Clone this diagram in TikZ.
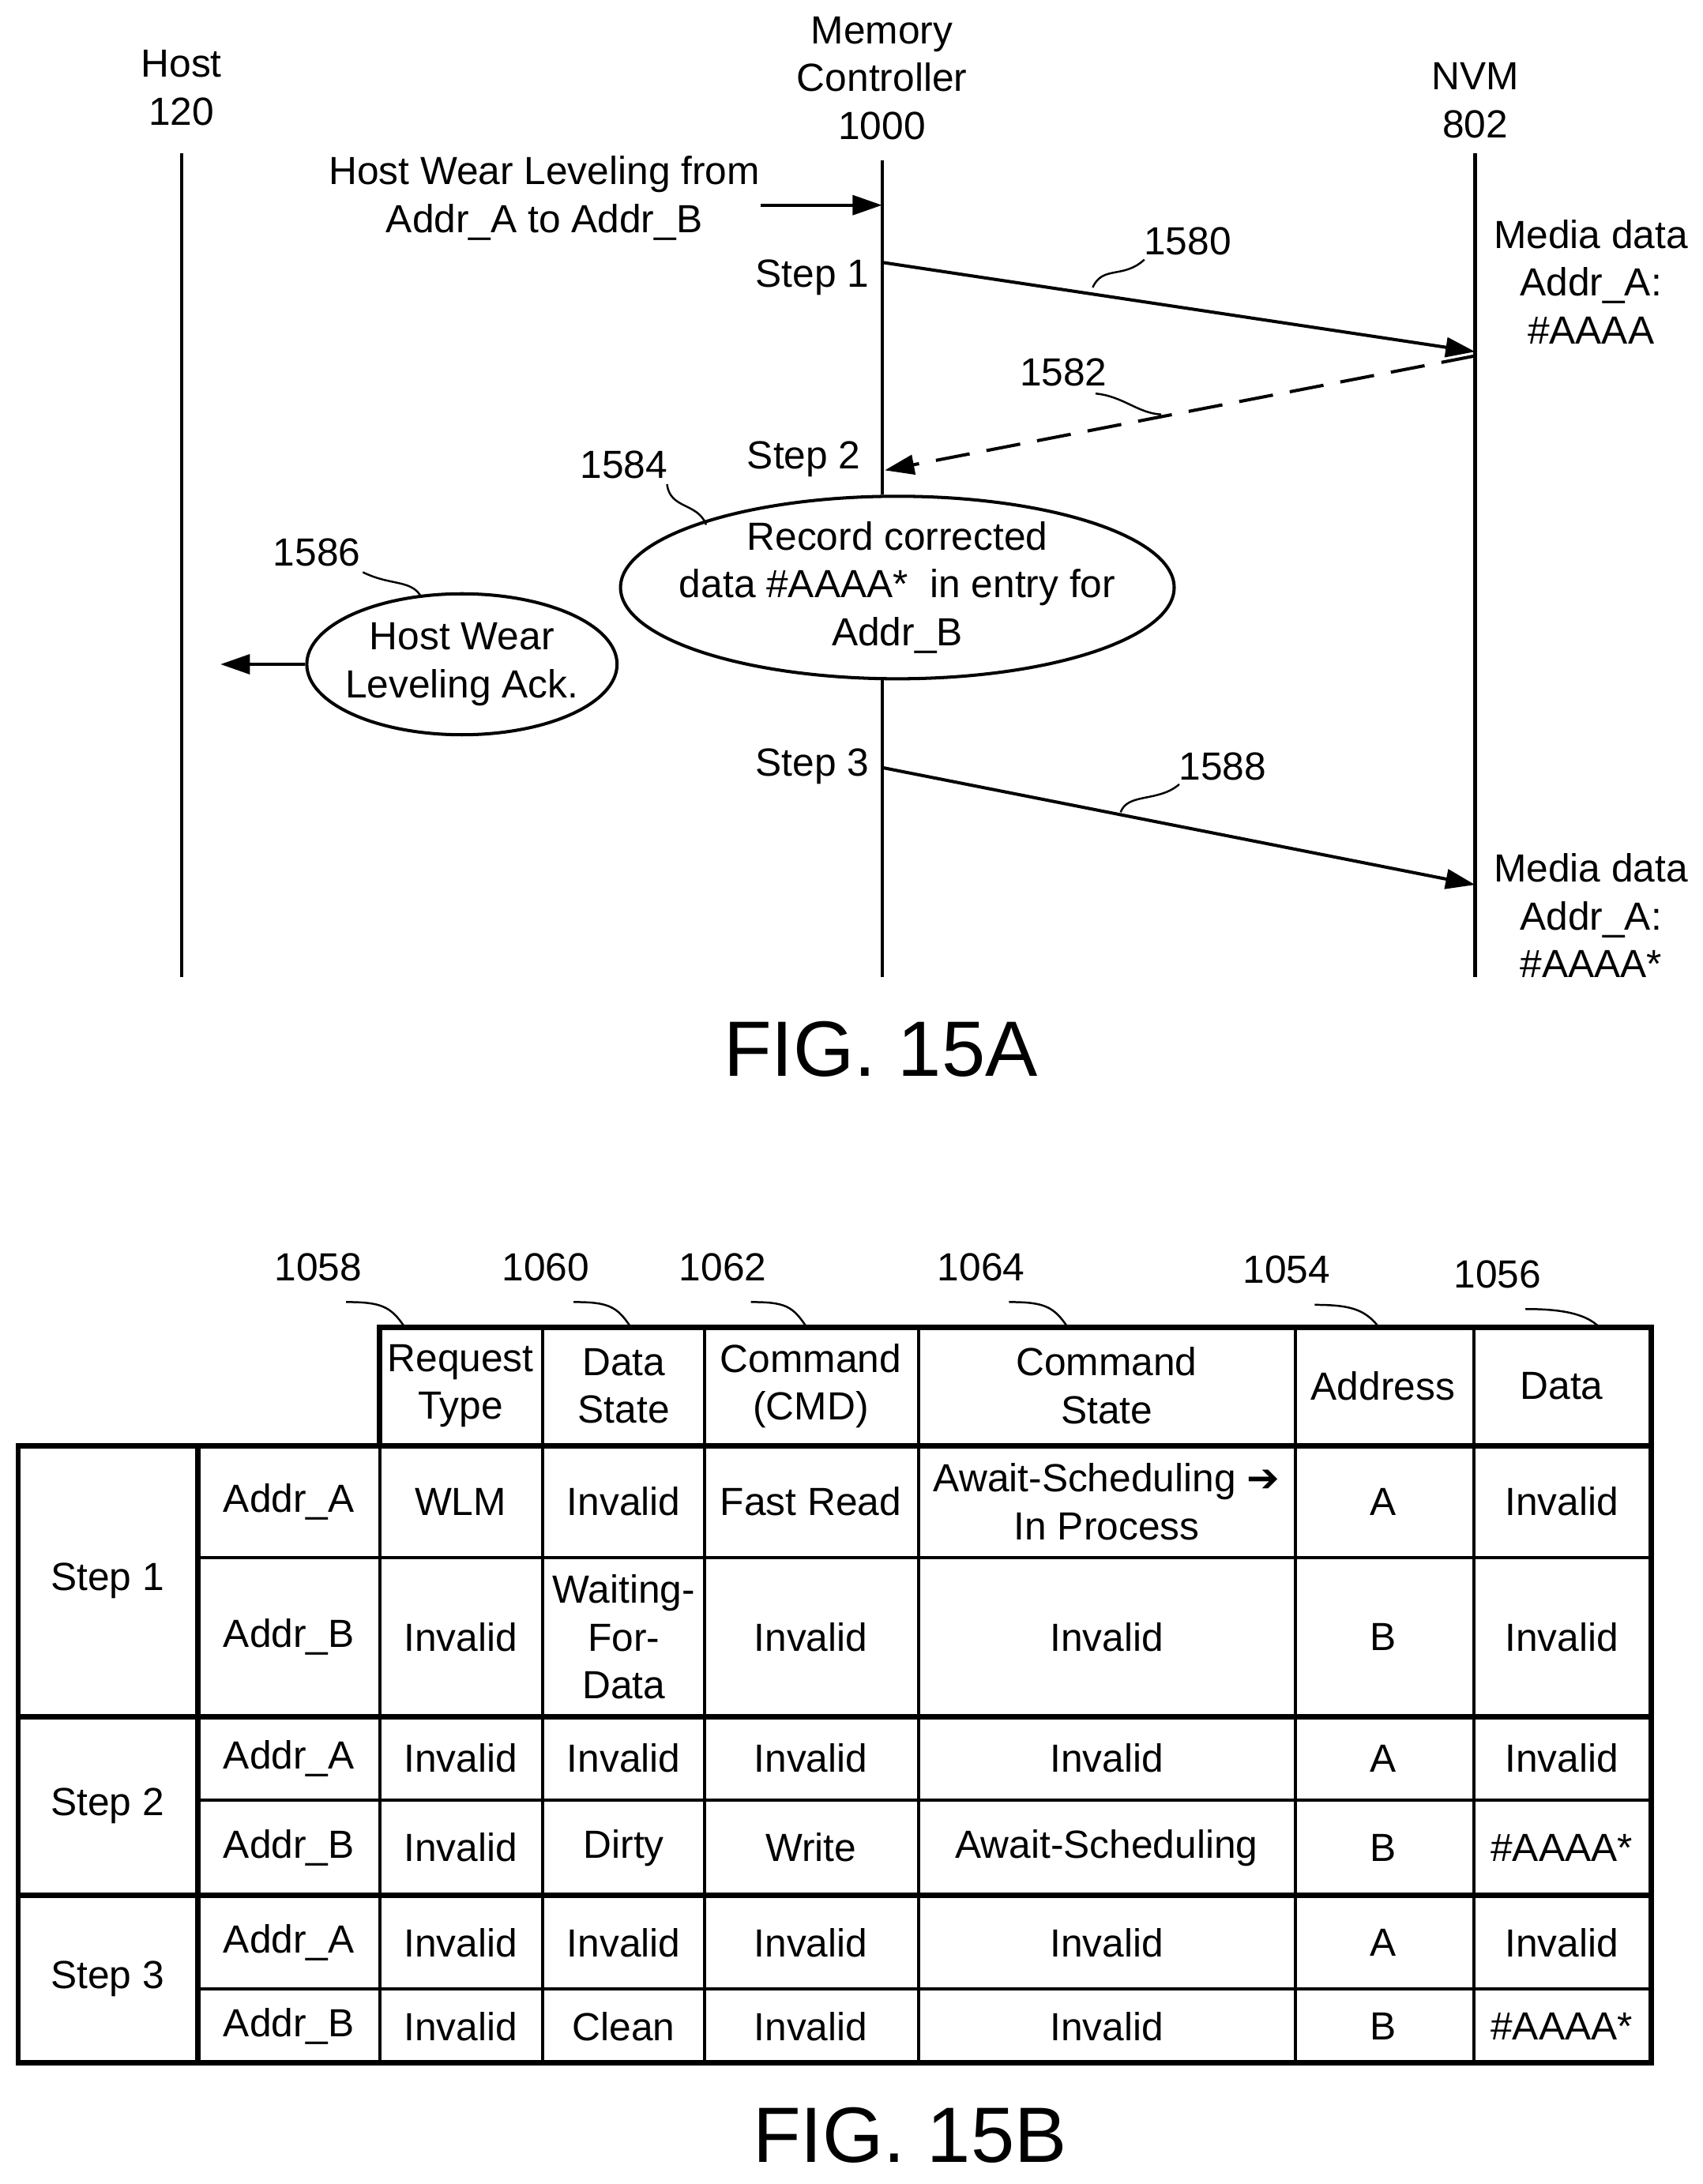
\documentclass[tikz,border=0pt]{standalone}
\usepackage{fontspec}
\setmainfont{Liberation Sans}
\newfontfamily\dejavu{DejaVu Sans}
\usetikzlibrary{arrows.meta,shapes.geometric}
\begin{document}
\begin{tikzpicture}[x=0.02cm,y=-0.02cm,
  txt/.style={font=\fontsize{16}{19.5}\selectfont,align=center,inner sep=0pt},
  life/.style={line width=1.3pt},
  arr/.style={line width=1.3pt,-{Triangle[length=12pt,width=8pt]}},
  lead/.style={line width=0.8pt},
  ell/.style={draw,ellipse,line width=1.3pt},
  fig/.style={font=\fontsize{32}{38}\selectfont,inner sep=0pt},
  tl/.style={line width=1.3pt}, tk/.style={line width=2.2pt}]
\useasboundingbox (0,0) rectangle (1220,1565);
% headers
\node[txt] (h) at (130,63) {Host\\120};
\node[txt] (m) at (632,56) {Memory\\Controller\\1000};
\node[txt] (n) at (1057,72) {NVM\\802};
\coordinate (ht) at (130,110); \coordinate (hb) at (130,700);
\coordinate (mt) at (632,115); \coordinate (mb) at (632,700);
\coordinate (nt) at (1057,110); \coordinate (nb) at (1057,700);
\draw[life] (ht)--(hb); \draw[life] (nt)--(nb);
% ellipses
\node[txt,ell,inner xsep=-0.32cm,inner ysep=-0.02cm] (e1) at (643,421) {Record corrected\\data \#AAAA*\ \ in entry for\\Addr\_B};
\draw[life] (mt)--(e1.north -| mt); \draw[life] (e1.south -| mb)--(mb);
\node[txt,ell,inner xsep=-0.1cm,inner ysep=0.12cm] (e2) at (331,476) {Host Wear\\Leveling Ack.};
\coordinate (ackend) at (158,476);
\draw[arr] (e2.west)--(ackend);
% host request
\node[txt] (req) at (390,142) {Host Wear Leveling from\\Addr\_A to Addr\_B};
\coordinate (rs) at (545,147); \coordinate (re) at (632,147);
\draw[arr] (rs)--(re);
\node[txt] (s1) at (582,199) {Step 1};
\node[txt] (s2) at (576,329) {Step 2};
\node[txt] (s3) at (582,549) {Step 3};
\coordinate (a1s) at (632,188); \coordinate (a1e) at (1057,252);
\draw[arr] (a1s)--(a1e);
\coordinate (a2s) at (1057,255); \coordinate (a2e) at (634,337);
\draw[arr,dash pattern=on 14pt off 7pt] (a2s)--(a2e);
\coordinate (a3s) at (632,550); \coordinate (a3e) at (1057,634);
\draw[arr] (a3s)--(a3e);
\node[txt] (md1) at (1140,202) {Media data\\Addr\_A:\\\#AAAA};
\node[txt] (md2) at (1140,656) {Media data\\Addr\_A:\\\#AAAA*};
% labels with leaders
\node[txt] (l1580) at (851,173) {1580};
\draw[lead] (783,206) .. controls (790,190) and (805,200) .. (820,186);
\node[txt] (l1582) at (762,267) {1582};
\draw[lead] (785,282) .. controls (805,284) and (815,296) .. (832,297);
\node[txt] (l1584) at (447,333) {1584};
\draw[lead] (478,347) .. controls (480,365) and (500,360) .. (506,376);
\node[txt] (l1586) at (227,396) {1586};
\draw[lead] (260,410) .. controls (280,420) and (295,415) .. (302,428);
\node[txt] (l1588) at (876,549) {1588};
\draw[lead] (803,582) .. controls (808,568) and (830,575) .. (845,562);
\node[fig] (f1) at (631,752) {FIG. 15A};
% table
\draw[tk] (272,951) rectangle (1183,1036);
\draw[tk] (13,1036) rectangle (1183,1478);
\foreach \x in {389,505,658,928,1056} \draw[tl] (\x,951)--(\x,1478);
\draw[tl] (272,1036)--(272,1478);
\draw[tk] (142,1036)--(142,1478);
\foreach \y in {1116,1290,1425} \draw[tl] (142,\y)--(1183,\y);
\foreach \y in {1230,1358} \draw[tk] (13,\y)--(1183,\y);
\foreach \x/\t in {330/Request\\Type,447/Data\\State,581/Command\\(CMD),793/Command\\State,991/Address,1119/Data}
  \node[txt] at (\x,993) {\t};
\foreach \y/\t in {1133/Step 1,1294/Step 2,1418/Step 3}
  \node[txt] at (77,\y) {\t};
\newcommand\trow[8]{\node[txt] at (207,#1) {#2}; \node[txt] at (330,#1) {#3}; \node[txt] at (447,#1) {#4};
  \node[txt] at (581,#1) {#5}; \node[txt] at (793,#1) {#6}; \node[txt] at (991,#1) {#7}; \node[txt] at (1119,#1) {#8};}
\trow{1076}{Addr\_A}{WLM}{Invalid}{Fast Read}{Await-Scheduling {\dejavu ➔}\\In Process}{A}{Invalid}
\trow{1173}{Addr\_B}{Invalid}{Waiting-\\For-\\Data}{Invalid}{Invalid}{B}{Invalid}
\trow{1260}{Addr\_A}{Invalid}{Invalid}{Invalid}{Invalid}{A}{Invalid}
\trow{1324}{Addr\_B}{Invalid}{Dirty}{Write}{Await-Scheduling}{B}{\#AAAA*}
\trow{1392}{Addr\_A}{Invalid}{Invalid}{Invalid}{Invalid}{A}{Invalid}
\trow{1452}{Addr\_B}{Invalid}{Clean}{Invalid}{Invalid}{B}{\#AAAA*}
\foreach \x/\y/\t/\ex in {228/908/1058/290,391/908/1060/452,518/908/1062/578,703/908/1064/765,922/910/1054/988,1073/913/1056/1146}{
  \node[txt] at (\x,\y) {\t};
  \draw[lead] (\x+20,\y+25) .. controls (\x+45,\y+25) and (\ex-10,\y+28) .. (\ex,951);
}
\node[fig] (f2) at (652,1530) {FIG. 15B};
\end{tikzpicture}
\end{document}
